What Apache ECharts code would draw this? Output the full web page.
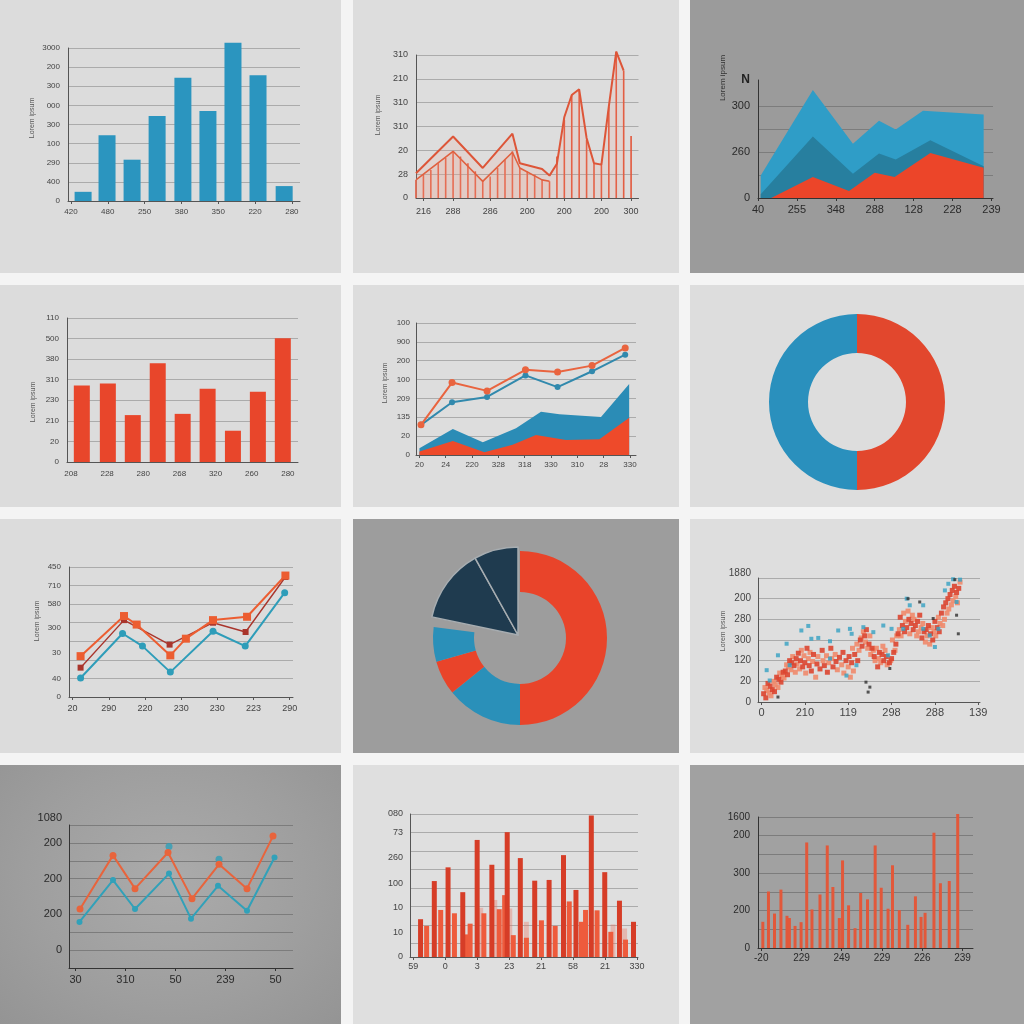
<!DOCTYPE html>
<html><head><meta charset="utf-8">
<script src="https://cdn.jsdelivr.net/npm/echarts@6/dist/echarts.min.js"></script>
<style>
html,body{margin:0;padding:0;width:1024px;height:1024px;overflow:hidden;background:#f4f4f4}
.p{position:absolute}
</style></head><body>
<div id="c1" class="p" style="left:0;top:0;width:341px;height:273px;background:#dcdcdc"></div>
<div id="c2" class="p" style="left:353px;top:0;width:326px;height:273px;background:#dddddd"></div>
<div id="c3" class="p" style="left:690px;top:0;width:334px;height:273px;background:#9b9b9b"></div>
<div id="c4" class="p" style="left:0;top:285px;width:341px;height:222px;background:#dcdcdc"></div>
<div id="c5" class="p" style="left:353px;top:285px;width:326px;height:222px;background:#dddddd"></div>
<div id="c6" class="p" style="left:690px;top:285px;width:334px;height:222px;background:#dddddd"></div>
<div id="c7" class="p" style="left:0;top:519px;width:341px;height:234px;background:#dcdcdc"></div>
<div id="c8" class="p" style="left:353px;top:519px;width:326px;height:234px;background:#9d9d9d"></div>
<div id="c9" class="p" style="left:690px;top:519px;width:334px;height:234px;background:#dedede"></div>
<div id="c10" class="p" style="left:0;top:765px;width:341px;height:259px;background:radial-gradient(ellipse at 50% 45%,#ababab 0%,#9e9e9e 60%,#949494 100%)"></div>
<div id="c11" class="p" style="left:353px;top:765px;width:326px;height:259px;background:#dfdfdf"></div>
<div id="c12" class="p" style="left:690px;top:765px;width:334px;height:259px;background:#a1a1a1"></div>
<script>
// ---------------- DATA ----------------
// Panel 1 (blue bars)
const p1X = [0.33, 0.98, 1.66, 2.34, 3.04, 3.72, 4.40, 5.08, 5.79];
const p1Values = [24, 172, 108, 222, 322, 235, 414, 329, 39];
const p1XLabels = ['420', '480', '250', '380', '350', '220', '280'];
const p1YLabels = ['0', '400', '290', '100', '300', '000', '300', '200', '3000'];

// Panel 2 (stems + zigzag lines)
const p2Categories = ['', '216', '', '', '', '288', '', '', '', '', '286', '', '', '', '', '200', '', '', '', '', '200', '', '', '', '', '200', '', '', '', '300', ''];
const p2Stems = [38, 49, 59, 73, 84, 98, 87, 73, 56, 38, 45, 63, 80, 98, 63, 56, 49, 38, 35, 87, 164, 216, 228, 122, 73, 70, 192, 307, 267, 130, null];
const p2Upper = [52, null, null, null, null, 129, null, null, null, 63, null, null, null, 135, 73, null, null, 61, 47, 72, 170, 216, 228, 126, 73, 70, 192, 307, 267, null, null];
const p2Lower = [38, null, null, null, null, 98, null, null, null, 35, null, null, null, 96, 63, null, null, 38, 35, null, null, null, null, null, null, null, null, null, null, null, null];
const p2YLabels = ['0', '28', '20', '310', '310', '210', '310'];

// Panel 3 (overlapping areas)
const p3Light = [[0.07, 49], [1.41, 235], [2.44, 118], [3.11, 168], [3.54, 149], [4.24, 190], [5.80, 182]];
const p3Dark = [[0.07, 8], [1.41, 134], [2.44, 53], [3.11, 97], [3.54, 84], [4.43, 126], [5.80, 69]];
const p3Red = [[0.34, 0], [1.41, 46], [2.34, 15], [3.0, 55], [3.51, 46], [4.43, 98], [5.80, 66]];
const p3XLabels = ['40', '255', '348', '288', '128', '228', '239'];
const p3YLabelPos = [0, 100, 200, 257];
const p3YLabels = ['0', '260', '300', '{b|N}'];
const p3GridPos = [50, 100, 150, 200];

// Panel 4 (red bars)
const p4X = [0.30, 1.02, 1.71, 2.40, 3.09, 3.78, 4.48, 5.17, 5.86];
const p4Values = [186, 191, 114, 240, 117, 178, 76, 171, 301];
const p4XLabels = ['208', '228', '280', '268', '320', '260', '280'];
const p4YLabels = ['0', '20', '210', '230', '310', '380', '500', '110'];

// Panel 5 (lines over areas)
const p5Orange = [[0.06, 80], [1.24, 192], [2.57, 170], [4.03, 226], [5.25, 220], [6.56, 237], [7.82, 284]];
const p5Blue = [[0.06, 80], [1.24, 140], [2.57, 154], [4.03, 211], [5.25, 180], [6.56, 222], [7.82, 266]];
const p5BlueArea = [[0, 18], [1.27, 69], [2.41, 34], [3.67, 71], [4.62, 115], [5.32, 108], [6.90, 101], [7.97, 188]];
const p5RedArea = [[0, 9], [1.27, 37], [2.47, 7], [3.54, 27], [4.43, 53], [5.57, 40], [6.84, 42], [7.97, 99]];
const p5XLabels = ['20', '24', '220', '328', '318', '330', '310', '28', '330'];
const p5YLabels = ['0', '20', '135', '209', '100', '200', '900', '100'];

// Panel 6 (half/half donut)
const p6Values = [50, 50];

// Panel 7 (three lines)
const p7Orange = [[0.22, 110], [1.42, 218], [1.77, 195], [2.70, 112], [3.13, 157], [3.88, 207], [4.82, 216], [5.88, 327]];
const p7DarkRed = [[0.22, 79], [1.42, 207], [2.68, 141], [3.88, 200], [4.78, 175], [5.88, 323]];
const p7Teal = [[0.22, 51], [1.38, 171], [1.93, 137], [2.70, 67], [3.88, 177], [4.77, 137], [5.86, 281]];
const p7XLabels = ['20', '290', '220', '230', '230', '223', '290'];
const p7YLabelPos = [0, 50, 120, 185, 250, 300, 350];
const p7YLabels = ['0', '40', '30', '300', '580', '710', '450'];

// Panel 8 (donut with dark wedges)
const p8Ring = [50, 14.2, 6.4, 6.4, 23];
const p8Wedges = [78.3, 13.6, 8.1];

// Panel 9 (scatter)
const p9Red = [[0.05,20],[0.1,10],[0.15,45],[0.2,38],[0.25,30],[0.3,25],[0.35,60],[0.4,55],[0.45,48],[0.5,72],[0.55,75],[0.6,66],[0.65,100],[0.7,95],[0.75,88],[0.8,105],[0.85,118],[0.9,100],[0.95,85],[1.0,95],[1.05,130],[1.1,88],[1.15,75],[1.2,115],[1.28,92],[1.35,80],[1.4,125],[1.45,88],[1.52,72],[1.6,130],[1.65,85],[1.72,98],[1.8,108],[1.88,120],[1.95,100],[2.02,110],[2.08,95],[2.15,115],[2.22,100],[2.28,150],[2.32,135],[2.38,160],[2.42,175],[2.48,140],[2.55,130],[2.6,110],[2.68,85],[2.72,120],[2.78,115],[2.82,100],[2.88,110],[2.95,95],[3.0,105],[3.05,120],[3.1,140],[3.15,165],[3.2,205],[3.25,185],[3.3,170],[3.35,180],[3.4,200],[3.45,190],[3.5,175],[3.55,185],[3.6,195],[3.65,210],[3.7,155],[3.75,170],[3.8,175],[3.85,185],[3.9,165],[3.95,150],[4.0,195],[4.05,180],[4.1,170],[4.15,215],[4.2,230],[4.25,240],[4.3,250],[4.35,260],[4.4,270],[4.45,280],[4.5,265],[4.55,275]];
const p9Salmon = [[0.08,35],[0.12,28],[0.18,22],[0.22,15],[0.28,50],[0.32,42],[0.38,35],[0.42,70],[0.48,62],[0.52,58],[0.58,90],[0.62,85],[0.68,78],[0.72,110],[0.78,72],[0.82,92],[0.88,80],[0.92,125],[0.98,112],[1.02,70],[1.08,105],[1.12,120],[1.18,98],[1.25,60],[1.3,110],[1.42,100],[1.5,112],[1.55,95],[1.62,105],[1.7,115],[1.75,78],[1.85,90],[1.9,70],[2.0,85],[2.05,60],[2.1,130],[2.12,75],[2.2,140],[2.25,125],[2.3,155],[2.35,170],[2.4,145],[2.45,130],[2.5,160],[2.52,115],[2.58,125],[2.62,100],[2.65,130],[2.7,105],[2.75,95],[2.8,135],[2.85,125],[2.9,90],[2.98,100],[3.02,150],[3.08,125],[3.12,160],[3.18,175],[3.22,160],[3.28,215],[3.32,195],[3.38,220],[3.42,165],[3.48,210],[3.52,200],[3.58,160],[3.62,170],[3.68,180],[3.72,190],[3.78,145],[3.82,160],[3.88,140],[3.92,180],[3.98,170],[4.02,160],[4.08,205],[4.12,190],[4.18,185],[4.22,200],[4.28,215],[4.32,225],[4.38,235],[4.42,245],[4.48,255],[4.52,240],[4.58,290]];
const p9Teal = [[0.12,77],[0.19,52],[0.38,113],[0.58,141],[0.65,89],[0.92,173],[1.08,184],[1.15,153],[1.31,155],[1.58,147],[1.58,105],[1.77,173],[1.96,64],[2.04,177],[2.08,165],[2.19,89],[2.35,181],[2.58,169],[2.81,185],[2.92,113],[3.0,177],[3.27,177],[3.35,250],[3.42,234],[3.73,234],[3.73,177],[3.88,161],[4.0,133],[4.08,177],[4.23,270],[4.31,286],[4.42,297],[4.5,242],[4.58,296]];
const p9Dark = [[0.38,12],[2.41,48],[2.46,24],[2.5,36],[2.96,81],[3.38,250],[3.65,242],[3.96,202],[4.46,296],[4.5,210],[4.54,165]];
const p9XLabels = ['0', '210', '119', '298', '288', '139'];
const p9YLabels = ['0', '20', '120', '300', '280', '200', '{t|1880}'];

// Panel 10 (zigzag lines)
const p10Orange = [[0.09, 115], [0.75, 265], [1.19, 172], [1.85, 273], [2.33, 144], [2.87, 240], [3.43, 172], [3.95, 319]];
const p10Teal = [[0.08, 79], [0.75, 196], [1.19, 115], [1.87, 214], [2.31, 88], [2.85, 180], [3.43, 110], [3.98, 259]];
const p10TealDots = [[1.87, 290], [2.87, 254]];
const p10XLabels = ['30', '310', '50', '239', '50'];
const p10YLabelPos = [0, 100, 200, 300, 350];
const p10YLabels = ['0', '200', '200', '200', '{t|1080}'];

// Panel 11 (dense bars)
const p11Tall = [[0.23,102],[0.66,205],[1.09,242],[1.55,175],[2.0,316],[2.46,249],[2.94,337],[3.35,267],[3.80,206],[4.25,208],[4.70,275],[5.09,181],[5.57,382],[5.99,229],[6.45,152],[6.89,95]];
const p11Short = [[0.42,84],[0.86,127],[1.29,118],[1.68,61],[1.78,90],[2.21,118],[2.69,129],[2.86,167],[3.13,59],[3.54,52],[4.01,99],[4.44,84],[4.88,150],[5.26,95],[5.39,127],[5.75,126],[6.18,68],[6.64,47]];
const p11Faint = [[2.11,133],[2.55,154],[3.02,131],[3.54,95],[6.25,88],[6.61,77]];
const p11XLabels = ['59', '0', '3', '23', '21', '58', '21', '330'];
const p11YLabelPos = [0, 66, 133, 199, 269, 336, 386];
const p11YLabels = ['0', '10', '10', '100', '260', '73', '080'];
const p11GridPos = [36, 86, 136, 186, 236, 286, 336, 386];

// Panel 12 (thin bars)
const p12Bars = [[0.04,70],[0.18,151],[0.33,92],[0.49,156],[0.64,86],[0.70,80],[0.84,59],[0.99,69],[1.13,282],[1.26,103],[1.46,143],[1.64,274],[1.78,163],[1.94,80],[2.02,234],[2.17,114],[2.33,53],[2.47,147],[2.64,130],[2.83,274],[2.98,161],[3.15,105],[3.26,221],[3.43,101],[3.64,62],[3.83,138],[3.97,83],[4.07,94],[4.29,308],[4.45,173],[4.67,179],[4.88,358]];
const p12XLabels = ['-20', '229', '249', '229', '226', '239'];
const p12YLabelPos = [0, 100, 200, 300, 350];
const p12YLabels = ['0', '200', '300', '200', '1600'];

const yName = 'Lorem ipsum';

// ---------------- HELPERS ----------------
const FONT = "'Liberation Sans Narrow','Liberation Sans',Arial,sans-serif";
const RED = '#e8472c', BLUE = '#2b93bd', ORANGE = '#e9603a', TEAL = '#2f9db8', NAVY = '#1f3b4f';

function grid(l, t, r, b) {
  return { left: l, top: t, right: r, bottom: b, containLabel: false, outerBoundsMode: 'none' };
}
function xAxisV(c) {
  const pos = c.labelPos || c.labels.map((_, i) => i);
  return {
    type: 'value', min: c.min, max: c.max,
    axisLine: { show: true, onZero: false, lineStyle: { color: c.lineColor, width: 1 } },
    axisTick: { show: !!c.ticks, length: 3, customValues: pos, lineStyle: { color: c.lineColor } },
    axisLabel: { customValues: pos, formatter: v => { const i = pos.indexOf(v); return i < 0 ? '' : c.labels[i]; },
      fontSize: c.fs, color: c.color, fontFamily: FONT, margin: c.margin, hideOverlap: false, showMinLabel: true, showMaxLabel: true },
    splitLine: { show: false }
  };
}
function yAxisV(c) {
  const ax = {
    type: 'value', min: c.min, max: c.max,
    axisLine: { show: true, onZero: false, lineStyle: { color: c.lineColor, width: 1 } },
    axisTick: { show: false },
    axisLabel: { fontSize: c.fs, color: c.color, fontFamily: FONT, margin: c.margin, hideOverlap: false, showMinLabel: true, showMaxLabel: true },
    splitLine: { show: true, lineStyle: { color: c.gridColor, width: 1 } }
  };
  if (c.interval) ax.interval = c.interval;
  if (c.gridPos) ax.axisTick.customValues = c.gridPos;
  if (c.labelPos) {
    ax.axisLabel.customValues = c.labelPos;
    ax.axisLabel.formatter = v => { const i = c.labelPos.indexOf(v); return i < 0 ? '' : c.labels[i]; };
  } else {
    ax.axisLabel.formatter = v => { const s = c.labels[Math.round((v - c.min) / c.interval)]; return s === undefined ? '' : s; };
  }
  if (c.rich) ax.axisLabel.rich = c.rich;
  return ax;
}
function nameText(x, y, fs, fill) {
  return { type: 'text', x: x, y: y, rotation: Math.PI / 2, silent: true,
    style: { text: yName, fontSize: fs || 7, fill: fill || '#555', align: 'center', verticalAlign: 'middle', fontFamily: FONT } };
}
function make(id, opt) {
  const el = document.getElementById(id);
  const ch = echarts.init(el, null, { renderer: 'canvas', width: el.clientWidth, height: el.clientHeight });
  opt.animation = false;
  opt.backgroundColor = 'transparent';
  ch.setOption(opt);
}
const LIGHT = { lineColor: '#555', color: '#444', gridColor: '#ababab' };
const DARK = { lineColor: '#333', color: '#2a2a2a', gridColor: '#7c7c7c' };

// ---------------- PANEL 1 ----------------
make('c1', {
  grid: grid(68, 48, 41, 72),
  xAxis: xAxisV({ min: -0.08, max: 6.22, labels: p1XLabels, fs: 8, margin: 7, ticks: true, ...LIGHT }),
  yAxis: yAxisV({ min: 0, max: 400, interval: 50, labels: p1YLabels, fs: 8, margin: 8, ...LIGHT }),
  graphic: [nameText(32, 118)],
  series: [{ type: 'bar', data: p1X.map((x, i) => [x, p1Values[i]]), barWidth: 17, clip: false,
    itemStyle: { color: '#2b95bf' }, silent: true }]
});

// ---------------- PANEL 2 ----------------
make('c2', {
  grid: grid(63, 55, 40.5, 75),
  xAxis: { type: 'category', data: p2Categories, boundaryGap: false,
    axisLine: { show: true, lineStyle: { color: '#555' } },
    axisTick: { show: true, length: 3, interval: (i, v) => v !== '', lineStyle: { color: '#555' } },
    axisLabel: { interval: 0, fontSize: 9, color: '#444', fontFamily: FONT, margin: 9, hideOverlap: false },
    splitLine: { show: false } },
  yAxis: yAxisV({ min: 0, max: 300, interval: 50, labels: p2YLabels, fs: 9, margin: 8, ...LIGHT }),
  graphic: [nameText(25, 115)],
  series: [
    { type: 'bar', data: p2Stems, barWidth: 1.6, itemStyle: { color: '#e2573c' }, silent: true, clip: false },
    { type: 'line', data: p2Lower, connectNulls: true, symbol: 'none', clip: false, silent: true,
      lineStyle: { color: '#e0603f', width: 1.6 }, areaStyle: { color: 'rgba(240,170,150,0.25)' } },
    { type: 'line', data: p2Upper, connectNulls: true, symbol: 'none', clip: false, silent: true,
      lineStyle: { color: '#dd5538', width: 2 }, areaStyle: { color: 'rgba(240,160,140,0.22)' } }
  ]
});

// ---------------- PANEL 3 ----------------
make('c3', {
  grid: grid(68, 80, 31, 75),
  xAxis: xAxisV({ min: 0, max: 6.04, labels: p3XLabels, fs: 11, margin: 6, ticks: true, ...DARK }),
  yAxis: yAxisV({ min: 0, max: 257, labelPos: p3YLabelPos, labels: p3YLabels, gridPos: p3GridPos, fs: 11, margin: 8,
    rich: { b: { fontSize: 12, fontWeight: 'bold', color: '#222', fontFamily: FONT } }, ...DARK }),
  graphic: [nameText(33, 78, 8, '#333')],
  series: [
    { type: 'line', data: p3Light, symbol: 'none', lineStyle: { width: 0 }, areaStyle: { color: '#2f9dc7', opacity: 1 }, silent: true },
    { type: 'line', data: p3Dark, symbol: 'none', lineStyle: { width: 0 }, areaStyle: { color: '#277f9f', opacity: 1 }, silent: true },
    { type: 'line', data: p3Red, symbol: 'none', lineStyle: { width: 0 }, areaStyle: { color: '#ec4529', opacity: 1 }, silent: true }
  ]
});

// ---------------- PANEL 4 ----------------
make('c4', {
  grid: grid(67, 33, 43, 45),
  xAxis: xAxisV({ min: -0.11, max: 6.28, labels: p4XLabels, fs: 8, margin: 8, ticks: false, ...LIGHT }),
  yAxis: yAxisV({ min: 0, max: 350, interval: 50, labels: p4YLabels, fs: 8, margin: 8, ...LIGHT }),
  graphic: [nameText(33, 117)],
  series: [{ type: 'bar', data: p4X.map((x, i) => [x, p4Values[i]]), barWidth: 16, clip: false,
    itemStyle: { color: '#e8462b' }, silent: true }]
});

// ---------------- PANEL 5 ----------------
make('c5', {
  grid: grid(63, 38, 43, 52),
  xAxis: xAxisV({ min: -0.13, max: 8.23, labels: p5XLabels, fs: 8, margin: 6, ticks: true, ...LIGHT }),
  yAxis: yAxisV({ min: 0, max: 350, interval: 50, labels: p5YLabels, fs: 8, margin: 6, ...LIGHT }),
  graphic: [nameText(32, 98)],
  series: [
    { type: 'line', data: p5BlueArea, symbol: 'none', lineStyle: { width: 0 }, areaStyle: { color: '#2b8cb6', opacity: 1 }, silent: true },
    { type: 'line', data: p5RedArea, symbol: 'none', lineStyle: { width: 0 }, areaStyle: { color: '#ee4a2a', opacity: 1 }, silent: true },
    { type: 'line', data: p5Blue, symbol: 'circle', symbolSize: 6, lineStyle: { color: '#3189ad', width: 2 }, itemStyle: { color: '#3189ad' }, silent: true },
    { type: 'line', data: p5Orange, symbol: 'circle', symbolSize: 7, lineStyle: { color: '#e9643f', width: 2 }, itemStyle: { color: '#e9643f' }, silent: true }
  ]
});

// ---------------- PANEL 6 ----------------
make('c6', {
  series: [{ type: 'pie', center: [167, 117], radius: [49, 88], startAngle: 90, clockwise: true, silent: true,
    label: { show: false }, labelLine: { show: false },
    data: [{ value: p6Values[0], itemStyle: { color: '#e2472d' } }, { value: p6Values[1], itemStyle: { color: '#2a90bd' } }] }]
});

// ---------------- PANEL 7 ----------------
make('c7', {
  grid: grid(69, 48, 48, 56),
  xAxis: xAxisV({ min: -0.1, max: 6.09, labels: p7XLabels, fs: 9, margin: 7, ticks: true, ...LIGHT }),
  yAxis: yAxisV({ min: 0, max: 350, interval: 50, labelPos: p7YLabelPos, labels: p7YLabels, fs: 8, margin: 8, ...LIGHT }),
  graphic: [nameText(37, 102)],
  series: [
    { type: 'line', data: p7Teal, symbol: 'circle', symbolSize: 7, lineStyle: { color: '#2e9db9', width: 2 }, itemStyle: { color: '#2e9db9' }, silent: true, clip: false },
    { type: 'line', data: p7DarkRed, symbol: 'rect', symbolSize: 6, lineStyle: { color: '#a9352c', width: 1.4 }, itemStyle: { color: '#a9352c' }, silent: true, clip: false },
    { type: 'line', data: p7Orange, symbol: 'rect', symbolSize: 8, lineStyle: { color: '#ec5d31', width: 2 }, itemStyle: { color: '#ec5d31' }, silent: true, clip: false }
  ]
});

// ---------------- PANEL 8 ----------------
const ringColors = ['#e9442a', '#2a90b9', '#e9442a', '#2a90b9', 'transparent'];
const wedgeColors = ['transparent', NAVY, NAVY];
make('c8', {
  series: [
    { type: 'pie', center: [167, 119], radius: [46, 87], startAngle: 90, clockwise: true, silent: true,
      label: { show: false }, labelLine: { show: false },
      data: p8Ring.map((v, i) => ({ value: v, itemStyle: { color: ringColors[i] } })) },
    { type: 'pie', center: [165, 116], radius: [0, 88], startAngle: 90, clockwise: true, silent: true,
      label: { show: false }, labelLine: { show: false },
      data: p8Wedges.map((v, i) => ({ value: v, itemStyle: { color: wedgeColors[i],
        borderColor: i === 0 ? 'transparent' : '#a7adb1', borderWidth: i === 0 ? 0 : 1.5 } })) }
  ]
});

// ---------------- PANEL 9 ----------------
make('c9', {
  grid: grid(68, 59, 44, 51),
  xAxis: xAxisV({ min: -0.08, max: 5.04, labels: p9XLabels, fs: 11, margin: 5, ticks: true, ...LIGHT }),
  yAxis: yAxisV({ min: 0, max: 300, interval: 50, labels: p9YLabels, fs: 10, margin: 7,
    rich: { t: { fontSize: 10, color: '#444', fontFamily: FONT, padding: [0, 0, 10, 0] } }, ...LIGHT }),
  graphic: [nameText(33, 112)],
  series: [
    { type: 'scatter', data: p9Salmon, symbol: 'rect', symbolSize: 5, itemStyle: { color: '#ef8a6b', opacity: 0.9 }, silent: true, clip: false },
    { type: 'scatter', data: p9Red, symbol: 'rect', symbolSize: 5, itemStyle: { color: '#dc4530', opacity: 0.9 }, silent: true, clip: false },
    { type: 'scatter', data: p9Teal, symbol: 'rect', symbolSize: 4, itemStyle: { color: '#35a0c2' }, silent: true, clip: false },
    { type: 'scatter', data: p9Dark, symbol: 'rect', symbolSize: 3, itemStyle: { color: '#2f2f2f' }, silent: true, clip: false }
  ]
});

// ---------------- PANEL 10 ----------------
make('c10', {
  grid: grid(69, 60, 48, 56),
  xAxis: xAxisV({ min: -0.13, max: 4.35, labels: p10XLabels, fs: 11, margin: 6, ticks: true, ...DARK }),
  yAxis: yAxisV({ min: -50, max: 350, interval: 50, labelPos: p10YLabelPos, labels: p10YLabels, fs: 11, margin: 7,
    rich: { t: { fontSize: 11, color: '#2a2a2a', fontFamily: FONT, padding: [0, 0, 14, 0] } }, ...DARK }),
  series: [
    { type: 'line', data: p10Teal, symbol: 'circle', symbolSize: 6, lineStyle: { color: '#31a1b9', width: 2 }, itemStyle: { color: '#31a1b9' }, silent: true },
    { type: 'line', data: p10Orange, symbol: 'circle', symbolSize: 7, lineStyle: { color: '#e8643c', width: 2 }, itemStyle: { color: '#e8643c' }, silent: true },
    { type: 'scatter', data: p10TealDots, symbol: 'circle', symbolSize: 7, itemStyle: { color: '#2f9fb8' }, silent: true }
  ]
});

// ---------------- PANEL 11 ----------------
make('c11', {
  grid: grid(57, 49, 41, 67),
  xAxis: xAxisV({ min: -0.1, max: 7.03, labels: p11XLabels, fs: 9, margin: 5, ticks: true, ...LIGHT }),
  yAxis: yAxisV({ min: 0, max: 386, labelPos: p11YLabelPos, labels: p11YLabels, gridPos: p11GridPos, fs: 9, margin: 7, ...LIGHT }),
  series: [
    { type: 'bar', data: p11Faint, barWidth: 5, barGap: '-100%', itemStyle: { color: 'rgba(236,110,90,0.35)' }, silent: true },
    { type: 'bar', data: p11Short, barWidth: 5, barGap: '-100%', itemStyle: { color: '#ee5b3c' }, silent: true },
    { type: 'bar', data: p11Tall, barWidth: 5, barGap: '-100%', itemStyle: { color: '#d63d27' }, silent: true }
  ]
});

// ---------------- PANEL 12 ----------------
make('c12', {
  grid: grid(68, 52, 51, 76),
  xAxis: xAxisV({ min: -0.08, max: 5.26, labels: p12XLabels, fs: 10, margin: 5, ticks: true, ...DARK }),
  yAxis: yAxisV({ min: 0, max: 350, interval: 50, labelPos: p12YLabelPos, labels: p12YLabels, fs: 10, margin: 8, ...DARK }),
  series: [{ type: 'bar', data: p12Bars, barWidth: 3, clip: false, itemStyle: { color: '#e2583a' }, silent: true }]
});
</script>
</body></html>
